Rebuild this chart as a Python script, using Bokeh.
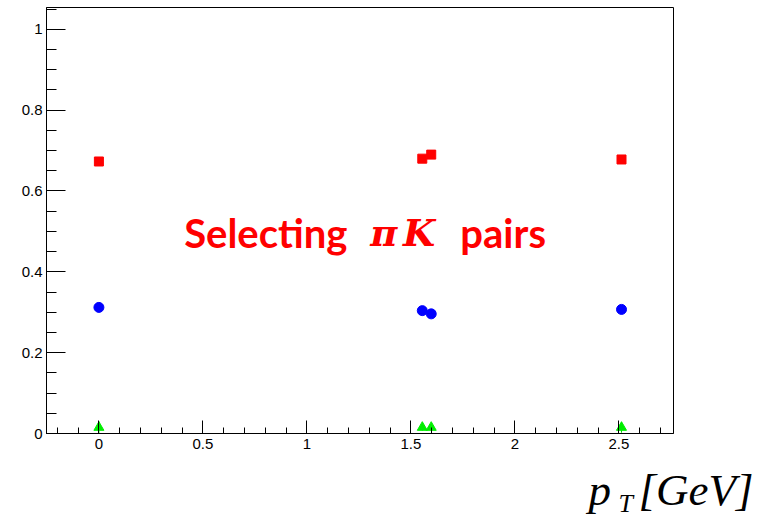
import numpy as np
from bokeh.plotting import figure
from bokeh.models import FixedTicker, Label
from bokeh.embed import file_html
from bokeh.resources import INLINE

# axis ticks
x_ticks = [0, 0.5, 1, 1.5, 2, 2.5]
x_tick_labels = ["0", "0.5", "1", "1.5", "2", "2.5"]
y_ticks = [0, 0.2, 0.4, 0.6, 0.8, 1]
y_tick_labels = ["0", "0.2", "0.4", "0.6", "0.8", "1"]

# measured points per pT bin
pt = [0.0, 1.555, 1.598, 2.513]
frac_red = [0.673, 0.680, 0.690, 0.678]
frac_blue = [0.312, 0.304, 0.296, 0.307]
frac_green = [0.015, 0.015, 0.015, 0.015]
err_green = [0.015, 0.008, 0.008, 0.013]

p = figure(width=757, height=460, x_range=(-0.252, 2.763), y_range=(0, 1.054),
           output_backend="svg", toolbar_location=None,
           min_border_left=46, min_border_right=84, min_border_top=7,
           min_border_bottom=27)
p.background_fill_color = "white"
p.border_fill_color = "white"
p.outline_line_color = "black"
p.outline_line_width = 1
p.xgrid.visible = False
p.ygrid.visible = False

p.xaxis.ticker = FixedTicker(ticks=x_ticks,
                             minor_ticks=list(np.round(np.arange(-0.2, 2.76, 0.1), 2)))
p.yaxis.ticker = FixedTicker(ticks=y_ticks,
                             minor_ticks=list(np.round(np.arange(0, 1.051, 0.05), 2)))
p.xaxis.major_label_overrides = dict(zip(x_ticks, x_tick_labels))
p.yaxis.major_label_overrides = dict(zip(y_ticks, y_tick_labels))

for ax in (p.xaxis[0], p.yaxis[0]):
    ax.axis_line_color = "black"
    ax.major_tick_line_color = "black"
    ax.minor_tick_line_color = "black"
    ax.major_tick_out = 0
    ax.minor_tick_out = 0
    ax.major_label_text_font = "Liberation Sans"
    ax.major_label_text_font_size = "15px"
    ax.major_label_text_color = "black"
p.xaxis.major_tick_in = 13
p.xaxis.minor_tick_in = 6
p.xaxis.major_label_standoff = 5
p.yaxis.major_tick_in = 19
p.yaxis.minor_tick_in = 10
p.yaxis.major_label_standoff = 4

# green error bars and markers
p.segment(x0=pt, y0=[v - e for v, e in zip(frac_green, err_green)],
          x1=pt, y1=[v + e for v, e in zip(frac_green, err_green)],
          line_color="#00e000", line_width=1)
p.scatter(pt, frac_red, marker="square", size=9, fill_color="#ff0000", line_color="#ff0000")
p.scatter(pt, frac_blue, marker="circle", size=10, fill_color="#0000ff", line_color="#0000ff")
p.scatter(pt, frac_green, marker="triangle", size=10, fill_color="#00ee00", line_color="#00ee00")

# annotation (labels are anchored at the middle of their text box)
red = "#ff0000"
p.add_layout(Label(x=0.41, y=0.497, text="Selecting", text_font="Lato",
                   text_font_style="bold", text_font_size="40px", text_color=red,
                   text_baseline="middle"))
p.add_layout(Label(x=1.305, y=0.497, text="π", text_font="DejaVu Serif",
                   text_font_style="bold italic", text_font_size="37px", text_color=red,
                   text_baseline="middle"))
p.add_layout(Label(x=1.462, y=0.497, text="K", text_font="DejaVu Serif",
                   text_font_style="bold italic", text_font_size="37px", text_color=red,
                   text_baseline="middle"))
p.add_layout(Label(x=1.738, y=0.497, text="pairs", text_font="Lato",
                   text_font_style="bold", text_font_size="40px", text_color=red,
                   text_baseline="middle"))

# strip under the plot carrying the x axis title (pixel-based ranges)
t = figure(width=757, height=58, x_range=(0, 757), y_range=(0, 58),
           output_backend="svg", toolbar_location=None,
           x_axis_type=None, y_axis_type=None, min_border=0)
t.outline_line_color = None
t.xgrid.visible = False
t.ygrid.visible = False
t.background_fill_color = "white"
t.border_fill_color = "white"
t.add_layout(Label(x=588, y=29, text="p", text_font="Liberation Serif",
                   text_font_style="italic", text_font_size="45px", text_color="black",
                   text_baseline="middle"))
t.add_layout(Label(x=618, y=15, text="T", text_font="Liberation Serif",
                   text_font_style="italic", text_font_size="26px", text_color="black",
                   text_baseline="middle"))
t.add_layout(Label(x=638, y=29, text="[GeV]", text_font="Liberation Serif",
                   text_font_style="italic", text_font_size="45px", text_color="black",
                   text_baseline="middle"))

open("out.html", "w").write(file_html([p, t], INLINE))
